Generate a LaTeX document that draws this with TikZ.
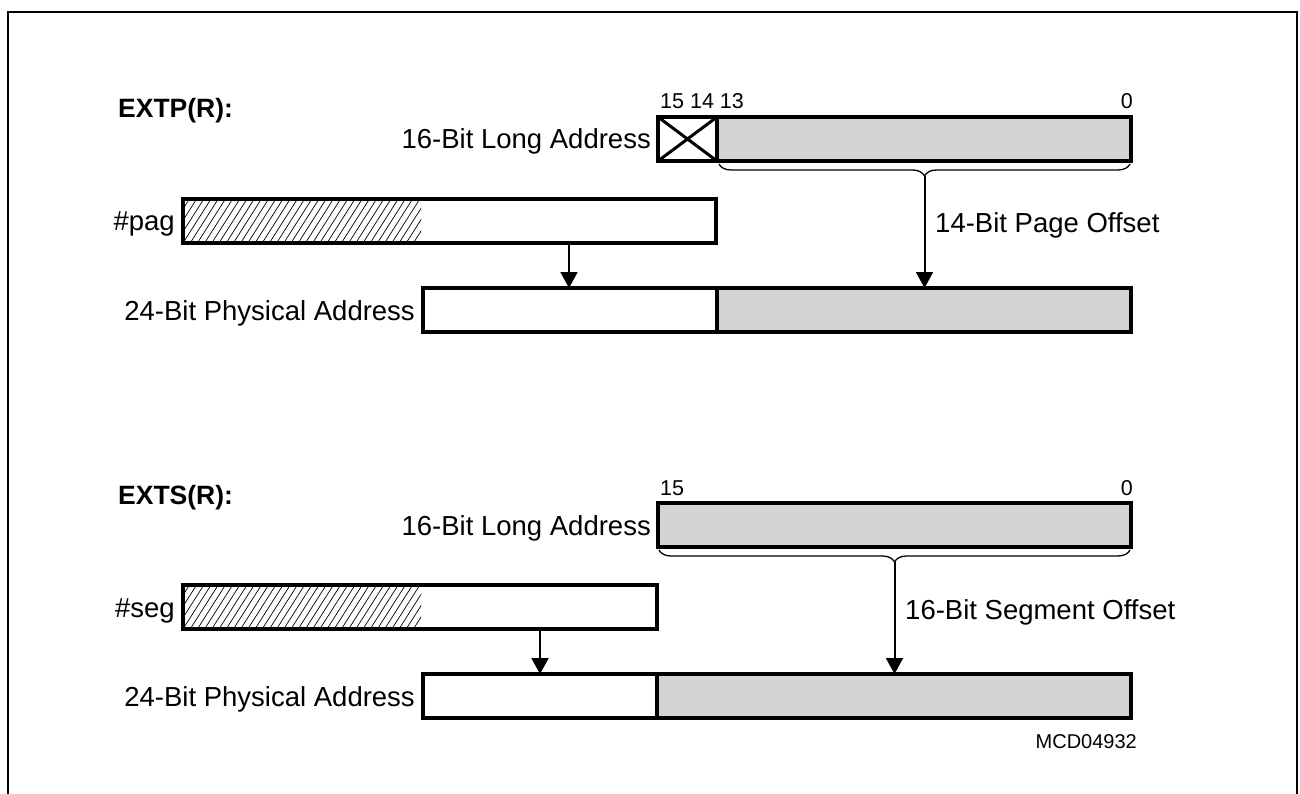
\documentclass[tikz,border=0pt]{standalone}
\usepackage{fontspec}
\setmainfont{Liberation Sans}
\usetikzlibrary{arrows.meta,decorations.pathreplacing}
\definecolor{regray}{RGB}{209,211,212}
\begin{document}
\begin{tikzpicture}[x=1pt,y=-1pt,
  box/.style={draw, line width=3.5pt, inner sep=0pt, outer sep=0pt},
  lbl/.style={font=\fontsize{27.5}{33}\selectfont, inner sep=0pt},
  bitnum/.style={font=\fontsize{21.5}{26}\selectfont, inner sep=0pt},
  head/.style={font=\fontsize{26.5}{32}\selectfont\bfseries, inner sep=0pt},
  tag/.style={font=\fontsize{20}{24}\selectfont, inner sep=0pt},
  arr/.style={line width=2pt, -{Triangle[width=17pt,length=16pt]}},
  brc/.style={line width=1.3pt, decorate, decoration={brace, mirror, amplitude=12pt}},
  hatchline/.style={line width=0.7pt}
]
\useasboundingbox (0,0) rectangle (1300,794);
% frame (open at bottom)
\draw[line width=2pt] (8,794) -- (8,12) -- (1297,12) -- (1297,794);

% ================= EXTP(R) =================
\node[head, anchor=base west] (hp) at (118,118) {EXTP(R):};
\node[bitnum, anchor=base west] (bp1) at (660,109) {15 14 13};
\node[bitnum, anchor=base east] (bp0) at (1133,109) {0};

% fills
\fill[regray] (717,117) rectangle (1131,161);
\fill[regray] (717,288) rectangle (1131,332);
\begin{scope}
  \clip (183,199) rectangle (421,243);
  \foreach \i in {-6,...,36} {
    \draw[hatchline] (183+7.2*\i,243) -- ++(28,-44);
  }
\end{scope}
% cross cell
\draw[line width=3pt] (658,117) -- (717,161) (658,161) -- (717,117);
\draw[line width=3.5pt] (717,117) -- (717,161);
\draw[line width=3.5pt] (717,288) -- (717,332);

\node[box, minimum width=473pt, minimum height=44pt] (la1) at (894.5,139) {};
\node[box, minimum width=533pt, minimum height=44pt] (pag1) at (449.5,221) {};
\node[box, minimum width=708pt, minimum height=44pt] (ph1) at (777,310) {};

\node[lbl, anchor=base east] (tla1) at (651,149) {16-Bit Long Address};
\node[lbl, anchor=base east] (tpag1) at (175,231) {\#pag};
\node[lbl, anchor=base east] (tph1) at (415,320) {24-Bit Physical Address};
\node[lbl, anchor=base west] (toff1) at (935,233) {14-Bit Page Offset};

\coordinate (b1a) at (719,164);
\coordinate (b1b) at (1130,164);
\coordinate (b1tip) at (924.5,176);
\draw[brc] (b1a) -- (b1b);
\draw[arr] (b1tip) -- (ph1.north -| b1tip);
\coordinate (a1) at (569,243);
\draw[arr] (pag1.south -| a1) -- (ph1.north -| a1);

% ================= EXTS(R) =================
\node[head, anchor=base west] (hs) at (118,504) {EXTS(R):};
\node[bitnum, anchor=base west] (bs1) at (660,495) {15};
\node[bitnum, anchor=base east] (bs0) at (1133,495) {0};

\fill[regray] (658,503) rectangle (1131,547);
\fill[regray] (657,674) rectangle (1131,718);
\begin{scope}
  \clip (183,585) rectangle (421,629);
  \foreach \i in {-6,...,36} {
    \draw[hatchline] (183+7.2*\i,629) -- ++(28,-44);
  }
\end{scope}
\draw[line width=3.5pt] (657,674) -- (657,718);

\node[box, minimum width=473pt, minimum height=44pt] (la2) at (894.5,525) {};
\node[box, minimum width=474pt, minimum height=44pt] (seg2) at (420,607) {};
\node[box, minimum width=708pt, minimum height=44pt] (ph2) at (777,696) {};

\node[lbl, anchor=base east] (tla2) at (651,535) {16-Bit Long Address};
\node[lbl, anchor=base east] (tseg2) at (175,617) {\#seg};
\node[lbl, anchor=base east] (tph2) at (415,706) {24-Bit Physical Address};
\node[lbl, anchor=base west] (toff2) at (905,619) {16-Bit Segment Offset};

\coordinate (b2a) at (659,550);
\coordinate (b2b) at (1130,550);
\coordinate (b2tip) at (894.5,562);
\draw[brc] (b2a) -- (b2b);
\draw[arr] (b2tip) -- (ph2.north -| b2tip);
\coordinate (a2) at (540,629);
\draw[arr] (seg2.south -| a2) -- (ph2.north -| a2);

\node[tag, anchor=base east] (mcd) at (1137,748) {MCD04932};
\end{tikzpicture}
\end{document}
